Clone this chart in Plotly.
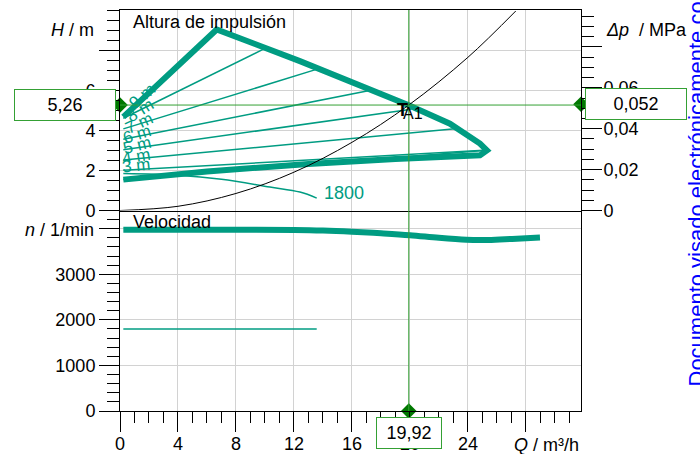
import plotly.graph_objects as go

# ---------------- data ----------------
q_max_curve = [0.23, 6.67, 12.41, 15.86, 19.92, 22.76, 24.83, 25.31]
h_max_curve = [4.67, 9.03, 7.45, 6.45, 5.25, 4.33, 3.34, 3.00]
q_min_curve = [25.31, 24.83, 19.0, 13.0, 6.0, 0.23]
h_min_curve = [3.00, 2.75, 2.57, 2.32, 1.95, 1.54]

dpv_heads = [3, 4, 5, 6, 7, 8, 9]
dpv_q_start = [0.23, 0.23, 0.23, 0.23, 0.23, 0.23, 0.23]
dpv_h_start = [1.55, 2.01, 2.52, 3.03, 3.55, 4.07, 4.60]
dpv_q_end = [25.31, 25.1, 23.1, 20.1, 17.3, 13.6, 9.9]
dpv_h_end = [3.00, 3.00, 4.08, 5.05, 6.00, 7.05, 8.05]

q_1800 = [0.23, 4.0, 7.0, 10.34, 12.41, 13.57]
h_1800 = [1.84, 1.76, 1.56, 1.17, 0.92, 0.62]

q_system = [0, 4, 8, 12, 16, 19.92, 24, 27.3]
h_system = [0, 0.21, 0.85, 1.91, 3.40, 5.26, 7.64, 9.95]

q_speed = [0.23, 4, 8, 12, 14, 16, 18, 20, 22, 23.9, 25, 26.2, 28, 28.97]
n_speed = [3975, 3978, 3978, 3972, 3960, 3935, 3900, 3858, 3800, 3758, 3752, 3765, 3790, 3805]
q_speed_1800 = [0.23, 13.57]
n_speed_1800 = [1800, 1800]

q_a1 = 19.92
h_a1 = 5.26
dp_a1 = 0.052

x_ticks = [0, 4, 8, 12, 16, 20, 24, 28]
x_ticktext = ["0", "4", "8", "12", "16", "20", "24", ""]
h_ticks = [0, 2, 4, 6, 8]
h_ticktext = ["0", "2", "4", "6", ""]
n_ticks = [0, 1000, 2000, 3000, 4000]
n_ticktext = ["0", "1000", "2000", "3000", ""]
dp_ticks = [0, 0.02, 0.04, 0.06, 0.08]
dp_ticktext = ["0", "0,02", "0,04", "0,06", ""]

# ---------------- style ----------------
TEAL = "#009C82"
GRID = "#d2d2d2"
GREEN_LINE = "#34a034"
GREEN_MARK = "#007800"
FONT = "Liberation Sans, Arial, sans-serif"
X_MAX = 31.8
H_MAX = 10.0
N_MAX = 4400
DP_MAX = H_MAX * 0.00981

OFF = 0                      # body margin is removed by the post script
W, H = 700 - OFF, 454 - OFF
L, T = 120 - OFF, 10 - OFF
R = W - (581 - OFF)
B = H - (411 - OFF)
PW, PH = W - L - R, H - T - B


def px_x(x):
    return (x - OFF - L) / PW


def px_y(y):
    return (H - B - (y - OFF)) / PH


fig = go.Figure()

# dp-v control lines
for i, hs in enumerate(dpv_heads):
    fig.add_trace(go.Scatter(x=[dpv_q_start[i], dpv_q_end[i]], y=[dpv_h_start[i], dpv_h_end[i]],
                             mode="lines", line=dict(color=TEAL, width=1.5),
                             xaxis="x2", yaxis="y", hoverinfo="skip"))

# 1800 rpm curve (head)
fig.add_trace(go.Scatter(x=q_1800, y=h_1800, mode="lines", line=dict(color=TEAL, width=1.5, shape="spline"),
                         xaxis="x2", yaxis="y", hoverinfo="skip"))

# thick operating envelope
fig.add_trace(go.Scatter(x=q_max_curve + q_min_curve[1:], y=h_max_curve + h_min_curve[1:],
                         mode="lines", line=dict(color=TEAL, width=6),
                         xaxis="x2", yaxis="y", hoverinfo="skip"))

# system curve
fig.add_trace(go.Scatter(x=q_system, y=h_system, mode="lines", line=dict(color="black", width=1, shape="spline"),
                         xaxis="x2", yaxis="y", hoverinfo="skip"))

# speed curves
fig.add_trace(go.Scatter(x=q_speed, y=n_speed, mode="lines", line=dict(color=TEAL, width=6, shape="spline"),
                         xaxis="x", yaxis="y2", hoverinfo="skip"))
fig.add_trace(go.Scatter(x=q_speed_1800, y=n_speed_1800, mode="lines", line=dict(color=TEAL, width=1.5),
                         xaxis="x", yaxis="y2", hoverinfo="skip"))

# diamonds for the read-out
fig.add_trace(go.Scatter(x=[0], y=[h_a1], mode="markers", cliponaxis=False,
                         marker=dict(symbol="diamond", size=12, color=GREEN_MARK),
                         xaxis="x2", yaxis="y", hoverinfo="skip"))
fig.add_trace(go.Scatter(x=[X_MAX], y=[dp_a1], mode="markers", cliponaxis=False,
                         marker=dict(symbol="diamond", size=12, color=GREEN_MARK),
                         xaxis="x2", yaxis="y3", hoverinfo="skip"))
fig.add_trace(go.Scatter(x=[q_a1], y=[0], mode="markers", cliponaxis=False,
                         marker=dict(symbol="diamond", size=12, color=GREEN_MARK),
                         xaxis="x", yaxis="y2", hoverinfo="skip"))

# crosshair
shapes = [
    dict(type="line", xref="x", yref="paper", x0=q_a1, x1=q_a1, y0=0, y1=1,
         line=dict(color=GREEN_LINE, width=1), layer="above"),
    dict(type="line", xref="paper", yref="y", x0=0, x1=1, y0=h_a1, y1=h_a1,
         line=dict(color=GREEN_LINE, width=1), layer="above"),
]

tickfont = dict(family=FONT, size=18, color="black")
common = dict(ticks="outside", ticklen=20, tickwidth=1, tickcolor="black", showline=True,
              linecolor="black", linewidth=1, zeroline=False, gridcolor=GRID, gridwidth=1,
              tickfont=tickfont, tickmode="array", fixedrange=True, automargin=False)

fig.update_layout(
    width=W, height=H, margin=dict(l=L, r=R, t=T, b=B, pad=0, autoexpand=False),
    paper_bgcolor="white", plot_bgcolor="white", showlegend=False,
    font=dict(family=FONT, size=18, color="black"), separators=",.",
    shapes=shapes,
    xaxis=dict(domain=[0, 1], anchor="y2", range=[0, X_MAX], tickvals=x_ticks, ticktext=x_ticktext,
               showgrid=True, ticklabelstandoff=-4,
               minor=dict(dtick=1, tick0=0, ticks="outside", ticklen=11, tickcolor="black", showgrid=False),
               **common),
    xaxis2=dict(domain=[0, 1], anchor="y", range=[0, X_MAX], tickvals=x_ticks, showticklabels=False,
                ticks="", showgrid=True, showline=True, mirror=True, linecolor="black", linewidth=1,
                zeroline=False, gridcolor=GRID, fixedrange=True, automargin=False),
    yaxis=dict(domain=[0.5, 1], anchor="x2", range=[0, H_MAX], tickvals=h_ticks, ticktext=h_ticktext,
               showgrid=True,
               minor=dict(dtick=0.5, tick0=0, ticks="outside", ticklen=12, tickcolor="black", showgrid=False),
               **common),
    yaxis2=dict(domain=[0, 0.5], anchor="x", range=[0, N_MAX], tickvals=n_ticks, ticktext=n_ticktext,
                showgrid=True, mirror=True,
                minor=dict(dtick=200, tick0=0, ticks="outside", ticklen=12, tickcolor="black", showgrid=False),
                **common),
    yaxis3=dict(overlaying="y", side="right", anchor="x2", range=[0, DP_MAX], tickvals=dp_ticks,
                ticktext=dp_ticktext, showgrid=False, ticklabelstandoff=-2,
                minor=dict(dtick=0.005, tick0=0, ticks="outside", ticklen=12, tickcolor="black", showgrid=False),
                **common),
)

ann = []


def label(text, x, y, xanchor="left", size=18, color="black", **kw):
    ann.append(dict(text=text, xref="paper", yref="paper", x=px_x(x), y=px_y(y), xanchor=xanchor,
                    yanchor="middle", showarrow=False, font=dict(family=FONT, size=size, color=color), **kw))


label("Altura de impulsión", 131, 22)
label("Velocidad", 131, 222)
label("<i>H</i> / m", 96, 30, xanchor="right")
label("<i>n</i> / 1/min", 96, 230, xanchor="right")
label("<i>Δp</i>  / MPa", 604, 30)
label("<i>Q</i> / m³/h", 581, 445, xanchor="right")

# set-point labels of the dp-v lines
label_angles = [-6, -10, -14, -18, -25, -32, -40]
label_q = [1.1, 1.1, 1.17, 1.17, 1.29, 1.38, 1.5]
for i, hs in enumerate(dpv_heads):
    slope = (dpv_h_end[i] - dpv_h_start[i]) / (dpv_q_end[i] - dpv_q_start[i])
    hy = dpv_h_start[i] + slope * (label_q[i] - dpv_q_start[i])
    ann.append(dict(text=f"{hs} m", xref="x2", yref="y", x=label_q[i], y=hy, yshift=13,
                    showarrow=False, textangle=label_angles[i], xanchor="center", yanchor="middle",
                    font=dict(family=FONT, size=17, color=TEAL)))

# 1800 label
ann.append(dict(text="1800", xref="x2", yref="y", x=q_1800[-1], y=h_1800[-1], xanchor="left",
                yanchor="middle", xshift=5, yshift=5, showarrow=False,
                font=dict(family=FONT, size=18, color=TEAL)))

# A1 operating point
ann.append(dict(text="<b>T</b>", xref="x2", yref="y", x=q_a1, y=h_a1, xshift=-6, yshift=-5,
                showarrow=False, font=dict(family=FONT, size=18, color="black")))
ann.append(dict(text="A1", xref="x2", yref="y", x=q_a1, y=h_a1, xshift=4, yshift=-8,
                showarrow=False, font=dict(family=FONT, size=16, color="black")))

# read-out boxes
box = dict(showarrow=False, bgcolor="white", bordercolor=GREEN_LINE, borderwidth=1, borderpad=1,
           font=dict(family=FONT, size=18, color="black"), align="center", valign="middle")
ann.append(dict(text=f"{h_a1:.2f}".replace(".", ","), xref="x2", yref="y", x=0, y=h_a1,
                xanchor="right", yanchor="middle", xshift=-4, width=98, height=28, **box))
ann.append(dict(text=f"{dp_a1:.3f}".replace(".", ","), xref="x2", yref="y3", x=X_MAX, y=dp_a1,
                xanchor="left", yanchor="middle", xshift=4, width=98, height=28, **box))
ann.append(dict(text=f"{q_a1:.2f}".replace(".", ","), xref="x", yref="y2", x=q_a1, y=0,
                xanchor="center", yanchor="top", yshift=-6, width=62, height=28, **box))

# vertical watermark text
ann.append(dict(text="Documento visado electrónicamente con número", xref="paper", yref="paper",
                x=px_x(681), y=px_y(389), xanchor="left", yanchor="bottom", textangle=-90,
                showarrow=False, font=dict(family=FONT, size=22, color="#0000ff")))

fig.update_layout(annotations=ann)
fig.write_html("out.html", config={"displayModeBar": False},
               post_script="document.body.style.margin='0';document.body.style.overflow='hidden';")
